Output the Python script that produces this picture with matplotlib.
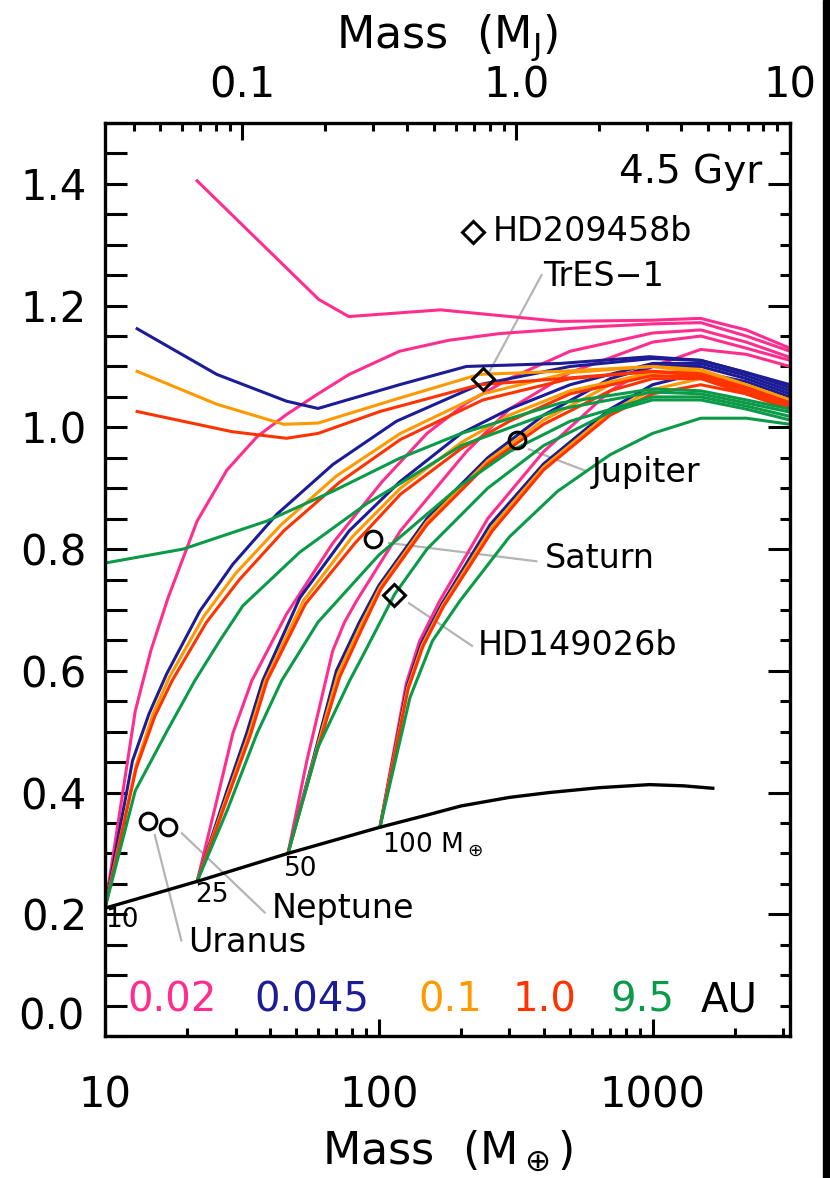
import numpy as np
import matplotlib.pyplot as plt
from matplotlib.ticker import FixedLocator, FixedFormatter, LogLocator, NullFormatter
from matplotlib.patches import Rectangle

# radius (R_J) vs total mass (M_earth), 4.5 Gyr, five orbital distances, five core masses
# pink = 0.02 AU
pk_c0 = [(21.7, 1.405), (60.4, 1.21), (77.7, 1.182), (168, 1.193), (461, 1.174), (1000, 1.176), (1496, 1.179), (2200, 1.16), (3178, 1.13)]
pk_c10 = [(10, 0.21), (12.9, 0.534), (14.7, 0.633), (17, 0.72), (21.7, 0.846), (27.9, 0.93), (36, 0.985), (46, 1.021), (60, 1.055), (78, 1.087), (119, 1.125), (180, 1.143), (276, 1.154), (600, 1.165), (1000, 1.17), (1500, 1.172), (2200, 1.15), (3178, 1.125)]
pk_c25 = [(21.7, 0.254), (25.6, 0.387), (29.3, 0.497), (34.4, 0.584), (46, 0.693), (68, 0.81), (103, 0.911), (150, 0.99), (209, 1.04), (300, 1.08), (500, 1.125), (1000, 1.155), (1500, 1.16), (2200, 1.14), (3178, 1.115)]
pk_c50 = [(46.6, 0.30), (54.6, 0.452), (67.9, 0.633), (75, 0.68), (83, 0.715), (120, 0.83), (209, 0.96), (300, 1.03), (500, 1.09), (1000, 1.14), (1500, 1.15), (2200, 1.13), (3178, 1.11)]
pk_c100 = [(101, 0.343), (126, 0.579), (141, 0.649), (167, 0.715), (250, 0.85), (400, 0.96), (700, 1.06), (1000, 1.10), (1500, 1.128), (2200, 1.12), (3178, 1.10)]

# navy = 0.045 AU
bl_c0 = [(13.1, 1.162), (25.6, 1.087), (46, 1.043), (60, 1.031), (119, 1.07), (209, 1.10), (461, 1.105), (974, 1.116), (1500, 1.11), (2200, 1.09), (3178, 1.07)]
bl_c10 = [(10, 0.21), (12.6, 0.452), (14.5, 0.53), (16.8, 0.595), (22.2, 0.698), (29.3, 0.775), (42.4, 0.857), (68, 0.939), (116, 1.01), (233, 1.07), (500, 1.10), (1000, 1.113), (1500, 1.11), (2200, 1.09), (3178, 1.065)]
bl_c25 = [(21.7, 0.254), (27.9, 0.403), (32.9, 0.497), (37.7, 0.584), (51.5, 0.72), (78, 0.83), (119, 0.91), (200, 0.99), (300, 1.03), (500, 1.07), (1000, 1.105), (1500, 1.105), (2200, 1.085), (3178, 1.06)]
bl_c50 = [(46.6, 0.30), (57.4, 0.452), (70, 0.60), (85, 0.68), (100, 0.74), (150, 0.85), (250, 0.95), (400, 1.02), (700, 1.08), (1000, 1.10), (1500, 1.10), (2200, 1.08), (3178, 1.055)]
bl_c100 = [(101, 0.343), (127, 0.575), (143, 0.645), (170, 0.71), (255, 0.84), (400, 0.94), (700, 1.03), (1000, 1.07), (1500, 1.09), (2200, 1.075), (3178, 1.05)]

# orange = 0.1 AU
or_c0 = [(13.1, 1.092), (25.6, 1.038), (45, 1.005), (60, 1.007), (119, 1.048), (233, 1.087), (461, 1.092), (1000, 1.10), (1500, 1.09), (2200, 1.07), (3178, 1.045)]
or_c10 = [(10, 0.21), (13, 0.445), (15, 0.53), (17.2, 0.59), (23, 0.69), (30, 0.76), (44, 0.84), (70, 0.92), (120, 0.99), (240, 1.055), (500, 1.09), (1000, 1.10), (1500, 1.095), (2200, 1.07), (3178, 1.045)]
or_c25 = [(21.7, 0.254), (28.2, 0.40), (33.5, 0.495), (38.5, 0.584), (53, 0.715), (80, 0.82), (120, 0.90), (200, 0.975), (300, 1.02), (500, 1.06), (1000, 1.09), (1500, 1.09), (2200, 1.065), (3178, 1.04)]
or_c50 = [(46.6, 0.30), (57.7, 0.452), (71, 0.595), (86, 0.675), (101, 0.737), (150, 0.845), (250, 0.945), (400, 1.012), (700, 1.07), (1000, 1.09), (1500, 1.09), (2200, 1.068), (3178, 1.04)]
or_c100 = [(101, 0.343), (127.5, 0.572), (144, 0.642), (171, 0.707), (258, 0.835), (400, 0.935), (700, 1.025), (1000, 1.062), (1500, 1.08), (2200, 1.065), (3178, 1.04)]

# red = 1.0 AU
rd_c0 = [(13.1, 1.026), (29, 0.993), (46, 0.982), (60, 0.99), (101, 1.026), (233, 1.07), (461, 1.08), (1000, 1.092), (1500, 1.085), (2200, 1.065), (3178, 1.04)]
rd_c10 = [(10, 0.21), (13, 0.44), (15.2, 0.525), (17.6, 0.584), (23.5, 0.68), (31, 0.75), (45, 0.83), (72, 0.91), (120, 0.98), (240, 1.045), (500, 1.08), (1000, 1.092), (1500, 1.088), (2200, 1.065), (3178, 1.04)]
rd_c25 = [(21.7, 0.254), (28.5, 0.40), (34, 0.495), (39.1, 0.584), (54, 0.71), (82, 0.81), (120, 0.89), (200, 0.965), (300, 1.01), (500, 1.055), (1000, 1.085), (1500, 1.083), (2200, 1.06), (3178, 1.035)]
rd_c50 = [(46.6, 0.30), (58, 0.452), (72, 0.59), (87, 0.67), (102, 0.735), (150, 0.84), (250, 0.94), (400, 1.005), (700, 1.06), (1000, 1.08), (1500, 1.08), (2200, 1.055), (3178, 1.03)]
rd_c100 = [(101, 0.343), (128, 0.57), (145, 0.64), (172, 0.705), (260, 0.83), (400, 0.93), (700, 1.02), (1000, 1.055), (1500, 1.07), (2200, 1.055), (3178, 1.03)]

# green = 9.5 AU
gr_c0 = [(10, 0.777), (19.3, 0.80), (39, 0.846), (68, 0.895), (119, 0.949), (200, 0.99), (461, 1.04), (1000, 1.063), (1500, 1.06), (2200, 1.045), (3178, 1.03)]
gr_c10 = [(10, 0.21), (12.9, 0.403), (16.8, 0.50), (21.3, 0.584), (26.3, 0.65), (31.9, 0.707), (51.5, 0.795), (90, 0.874), (119, 0.907), (200, 0.97), (461, 1.03), (1000, 1.058), (1500, 1.055), (2200, 1.04), (3178, 1.025)]
gr_c25 = [(21.7, 0.254), (27.9, 0.37), (35.9, 0.497), (44.2, 0.584), (60, 0.68), (100, 0.79), (200, 0.905), (300, 0.96), (500, 1.01), (1000, 1.05), (1500, 1.05), (2200, 1.035), (3178, 1.018)]
gr_c50 = [(46.6, 0.30), (59.9, 0.474), (78.3, 0.584), (87.5, 0.625), (114, 0.725), (150, 0.80), (250, 0.90), (400, 0.97), (700, 1.025), (1000, 1.045), (1500, 1.045), (2200, 1.03), (3178, 1.012)]
gr_c100 = [(101, 0.343), (130, 0.556), (157, 0.649), (198, 0.715), (300, 0.82), (450, 0.895), (700, 0.955), (1000, 0.99), (1500, 1.015), (2200, 1.015), (3178, 1.005)]

# pure heavy-element planets (black)
core_m = [10, 21.7, 46.6, 101, 150, 200, 300, 420, 640, 974, 1300, 1660]
core_r = [0.21, 0.254, 0.30, 0.343, 0.363, 0.378, 0.392, 0.40, 0.408, 0.413, 0.411, 0.407]

# solar system and transiting planets
planets = ['Jupiter', 'Saturn', 'Uranus', 'Neptune']
planet_m = [319, 95.1, 14.4, 17.0]
planet_r = [0.979, 0.816, 0.354, 0.343]
exo = ['HD209458b', 'TrES-1', 'HD149026b']
exo_m = [220, 240, 114]
exo_r = [1.321, 1.079, 0.725]

dist_labels = ['0.02', '0.045', '0.1', '1.0', '9.5']
colors = ['#ff2e8e', '#1c1c96', '#ff9900', '#ff3300', '#0a9a48']
core_labels = ['10', '25', '50', '100 M$_\\oplus$']
MJ = 317.8

families = [
    [pk_c0, pk_c10, pk_c25, pk_c50, pk_c100],
    [bl_c0, bl_c10, bl_c25, bl_c50, bl_c100],
    [or_c0, or_c10, or_c25, or_c50, or_c100],
    [rd_c0, rd_c10, rd_c25, rd_c50, rd_c100],
    [gr_c0, gr_c10, gr_c25, gr_c50, gr_c100],
]

plt.rcParams['font.family'] = 'DejaVu Sans'
fig = plt.figure(figsize=(8.3, 11.78), dpi=100)
ax = fig.add_axes([105 / 830, 1 - 1036 / 1178, 685 / 830, 913 / 1178])

for fam, c in zip(families, colors):
    for crv in fam:
        m, r = zip(*crv)
        ax.plot(m, r, color=c, lw=2.2, solid_joinstyle='round')

ax.plot(core_m, core_r, color='k', lw=2.4)

# gray leader lines
leaders = [((354, 0.964), (574, 0.928)),   # Jupiter
           ((109, 0.81), (376, 0.78)),     # Saturn
           ((15.2, 0.33), (19.0, 0.157)),  # Uranus
           ((19.1, 0.333), (38.3, 0.203)), # Neptune
           ((254, 1.092), (393, 1.25)),    # TrES-1
           ((129, 0.711), (219, 0.641))]   # HD149026b
for (x0, y0), (x1, y1) in leaders:
    ax.plot([x0, x1], [y0, y1], color='#b4b4b4', lw=1.6, zorder=1)

ax.plot(planet_m, planet_r, 'o', ms=12, mfc='none', mec='k', mew=2.2, zorder=5)
ax.plot(exo_m, exo_r, 'D', ms=11, mfc='none', mec='k', mew=2.2, zorder=5)

fs_lab = 24
ax.text(599, 0.925, 'Jupiter', fontsize=fs_lab, va='center')
ax.text(404, 0.784, 'Saturn', fontsize=fs_lab, va='center')
ax.text(20.1, 0.154, 'Uranus', fontsize=fs_lab, va='center')
ax.text(40.6, 0.21, 'Neptune', fontsize=fs_lab, va='center')
ax.text(261, 1.321, 'HD209458b', fontsize=fs_lab, va='center')
ax.text(397, 1.248, 'TrES\u22121', fontsize=fs_lab, va='center')
ax.text(230, 0.641, 'HD149026b', fontsize=fs_lab, va='center')
ax.text(2515, 1.42, '4.5 Gyr', fontsize=28, va='center', ha='right')

# core mass labels along black curve
core_lab_m = [11.5, 24.5, 52, 103]
core_lab_r = [0.19, 0.232, 0.274, 0.315]
for s, xm, yr in zip(core_labels, core_lab_m, core_lab_r):
    ax.text(xm, yr, s, fontsize=19, va='center', ha='left' if s.startswith('100') else 'center')

# distance legend
leg_m = [17.6, 57, 182, 404, 921, 1906]
for s, xm, c in zip(dist_labels + ['AU'], leg_m, colors + ['k']):
    ax.text(xm, 0.059, s, color=c, fontsize=29, ha='center', va='center')

ax.set_xscale('log')
ax.set_xlim(10, 10 * MJ)
ax.set_ylim(0, 1.5)

ax.xaxis.set_major_locator(FixedLocator([10, 100, 1000]))
ax.xaxis.set_major_formatter(FixedFormatter(['10', '100', '1000']))
ax.xaxis.set_minor_locator(LogLocator(subs=np.arange(2, 10)))
ax.xaxis.set_minor_formatter(NullFormatter())
ax.yaxis.set_major_locator(FixedLocator(np.arange(0, 1.41, 0.2)))
ax.yaxis.set_major_formatter(FixedFormatter(['', '0.2', '0.4', '0.6', '0.8', '1.0', '1.2', '1.4']))
ax.yaxis.set_minor_locator(FixedLocator(np.arange(0, 1.51, 0.05)))
ax.text(-0.03, 0.02, '0.0', transform=ax.transAxes, fontsize=30, ha='right', va='center')

ax.tick_params(which='both', direction='in', width=2.2, labelsize=30, top=False, right=False)
ax.tick_params(axis='x', which='major', length=12, pad=28)
ax.tick_params(axis='x', which='minor', length=6)
ax.tick_params(axis='y', which='major', length=16, pad=13)
ax.tick_params(axis='y', which='minor', length=16)
for sp in ax.spines.values():
    sp.set_linewidth(2.4)

top = ax.secondary_xaxis('top', functions=(lambda m: m / MJ, lambda j: j * MJ))
top.xaxis.set_major_locator(FixedLocator([0.1, 1.0, 10]))
top.xaxis.set_major_formatter(FixedFormatter(['0.1', '1.0', '10']))
top.xaxis.set_minor_locator(LogLocator(subs=np.arange(2, 10)))
top.xaxis.set_minor_formatter(NullFormatter())
top.tick_params(which='both', direction='in', width=2.2, labelsize=30)
top.tick_params(which='major', length=12, pad=12)
top.tick_params(which='minor', length=6)
top.set_xlabel('Mass  (M$_\\mathrm{J}$)', fontsize=32, labelpad=12)

rgt = ax.secondary_yaxis('right', functions=(lambda y: y, lambda y: y))
rgt.yaxis.set_major_locator(FixedLocator(np.arange(0, 1.41, 0.2)))
rgt.yaxis.set_minor_locator(FixedLocator(np.arange(0, 1.51, 0.05)))
rgt.yaxis.set_major_formatter(NullFormatter())
rgt.tick_params(which='both', direction='in', width=2.2)
rgt.tick_params(which='major', length=16)
rgt.tick_params(which='minor', length=7)

ax.set_xlabel('Mass  (M$_\\oplus$)', fontsize=32, labelpad=8)

fig.add_artist(Rectangle((823 / 830, 0), 7 / 830, 1, transform=fig.transFigure, color='k'))

fig.savefig('out.png', dpi=100)
